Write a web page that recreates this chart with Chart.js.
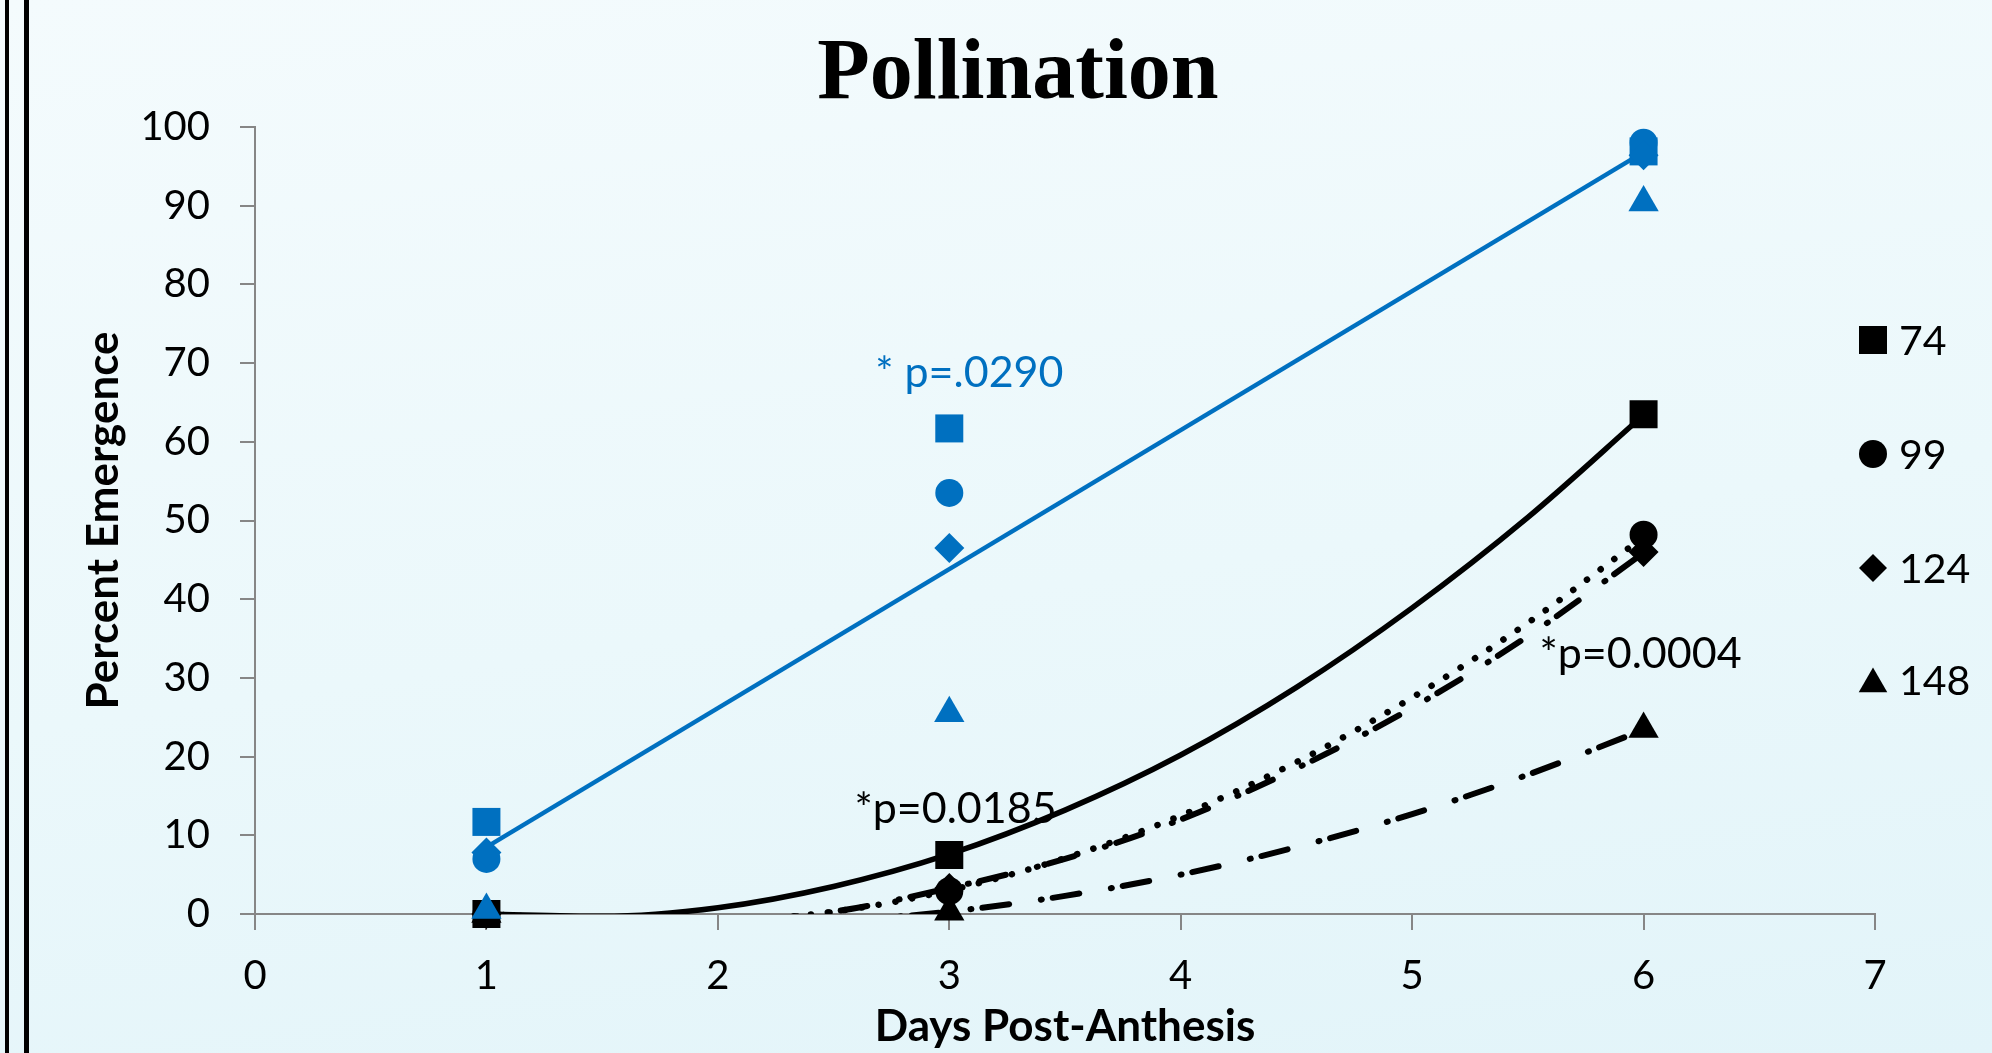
<!DOCTYPE html>
<html>
<head>
<meta charset="utf-8">
<script src="https://cdn.jsdelivr.net/npm/chart.js@4.4.1/dist/chart.umd.min.js"></script>
<style>
  html, body { margin: 0; padding: 0; }
  body {
    width: 1992px; height: 1053px; overflow: hidden; position: relative;
    background: linear-gradient(172deg, #f4fbfd 0%, #ebf8fb 55%, #e2f4f9 100%);
  }
  #wrap { position: absolute; left: 0; top: 0; width: 1992px; height: 1053px; }
  .rule { position: absolute; top: 0; height: 1053px; background: #000; }
</style>
</head>
<body>
<div class="rule" style="left:5px;width:4px"></div>
<div class="rule" style="left:24px;width:5px"></div>
<div id="wrap"><canvas id="myChart" width="1992" height="1053"></canvas></div>
<script>
// x values where the seeds were scored
const days = [1, 3, 6];
const seriesNames = ['74', '99', '124', '148'];

// black markers
const black74 = [0, 7.5, 63.5];
const black99 = [0, 2.9, 48.2];
const black124 = [0, 3.3, 46.0];
const black148 = [0, 0.3, 23.5];

// blue markers
const blue74 = [11.7, 61.7, 96.9];
const blue99 = [7.0, 53.5, 98.0];
const blue124 = [7.8, 46.5, 96.4];
const blue148 = [0.5, 25.5, 90.4];

// blue straight trend line (read at its two ends)
const blueTrendDays = [1, 6];
const blueTrend = [8.5, 96.8];

// black curved trend lines, every half day
const curveDays = [1, 1.5, 2, 2.5, 3, 3.5, 4, 4.5, 5, 5.5, 6];
const fit74 = [0, -0.3, 0.8, 3.5, 7.6, 13.2, 20.2, 28.8, 38.9, 50.4, 63.4];
const fit99 = [0, -0.8, -0.9, 0.3, 3.0, 7.1, 12.5, 19.3, 27.5, 37.0, 47.9];
const fit124 = [0, -0.8, -0.9, 0.3, 3.3, 7.0, 12.0, 18.5, 26.2, 35.3, 45.9];
const fit148 = [0, -1.1, -1.4, -0.9, 0.3, 2.3, 5.0, 8.5, 12.7, 17.7, 23.4];

const annotations = [
    { text: '* p=.0290', day: 2.68, value: 67.0, color: '#0070C0' },
    { text: '*p=0.0185', day: 2.59, value: 11.6, color: '#000000' },
    { text: '*p=0.0004', day: 5.55, value: 31.3, color: '#000000' }
];

const BLUE = '#0070C0';
const AXIS = '#868686';
const shapes = ['rect', 'circle', 'rectRot', 'triangle'];
const radii = [19.8, 14, 15, 17.5];

function pts(xs, ys) {
    return xs.map((d, i) => ({ x: d, y: ys[i] }));
}

function markerSet(label, values, idx, color, order) {
    return {
        label: label,
        data: pts(days, values),
        showLine: false,
        pointStyle: shapes[idx],
        pointRadius: radii[idx],
        pointHoverRadius: radii[idx],
        pointBackgroundColor: color,
        pointBorderColor: color,
        pointBorderWidth: 0,
        clip: false,
        order: order
    };
}

function curveSet(values, dash, width, order) {
    return {
        data: pts(curveDays, values),
        showLine: true,
        pointRadius: 0,
        borderColor: '#000',
        borderWidth: width,
        borderDash: dash,
        borderCapStyle: 'round',
        borderJoinStyle: 'round',
        cubicInterpolationMode: 'monotone',
        order: order
    };
}

const blackSets = [black74, black99, black124, black148];
const blueSets = [blue74, blue99, blue124, blue148];

const datasets = [];

// blue on top, later series over earlier ones
for (let i = 0; i !== 4; i++)
    datasets.push(markerSet(seriesNames[i], blueSets[i], i, BLUE, 3 - i));

datasets.push({
    data: pts(blueTrendDays, blueTrend),
    showLine: true,
    pointRadius: 0,
    borderColor: BLUE,
    borderWidth: 4.5,
    order: 4
});

for (let i = 0; i !== 4; i++)
    datasets.push(markerSet(seriesNames[i], blackSets[i], i, '#000', 8 - i));

datasets.push(curveSet(fit74, [], 5.5, 9));
datasets.push(curveSet(fit99, [0.1, 17], 6.5, 10));
datasets.push(curveSet(fit124, [27, 32, 1, 11], 6, 11));
datasets.push(curveSet(fit148, [27, 32, 1, 11], 6, 12));

// title, p-value notes and the marker legend on the right
const extras = {
    id: 'extras',
    afterDraw(chart) {
        const ctx = chart.ctx;
        const xs = chart.scales.x;
        const ys = chart.scales.y;
        ctx.save();

        ctx.fillStyle = '#000';
        ctx.font = 'bold 86px "Liberation Serif"';
        ctx.textAlign = 'center';
        ctx.textBaseline = 'alphabetic';
        ctx.fillText('Pollination', 1018, 98);

        ctx.textAlign = 'left';
        ctx.font = '43px Lato';
        for (const a of annotations) {
            ctx.fillStyle = a.color;
            ctx.fillText(a.text, xs.getPixelForValue(a.day), ys.getPixelForValue(a.value));
        }

        const legendY = [340, 454, 568, 680];
        ctx.textBaseline = 'middle';
        ctx.font = '41px Lato';
        for (let i = 0; i !== 4; i++) {
            ctx.fillStyle = '#000';
            Chart.helpers.drawPoint(ctx, {
                pointStyle: shapes[i],
                radius: i === 0 ? 19.8 : (i === 3 ? 16.5 : 14),
                rotation: 0,
                borderWidth: 0
            }, 1873, legendY[i] + (i === 3 ? 4 : 0));
            ctx.fillText(seriesNames[i], 1899, legendY[i] + 2);
        }
        ctx.restore();
    }
};

const tickFont = { family: 'Lato', size: 40 };

new Chart(document.getElementById('myChart'), {
    type: 'scatter',
    data: { datasets: datasets },
    options: {
        responsive: false,
        animation: false,
        events: [],
        devicePixelRatio: 1,
        layout: { padding: { left: 0, top: 127, right: 117, bottom: 0 } },
        plugins: {
            legend: { display: false },
            title: { display: false },
            tooltip: { enabled: false }
        },
        scales: {
            x: {
                type: 'linear',
                min: 0,
                max: 7,
                afterFit: s => { s.height = 139; },
                ticks: { stepSize: 1, font: tickFont, color: '#000', padding: 22 },
                grid: { drawOnChartArea: false, drawTicks: true, tickLength: 16, color: AXIS, lineWidth: 2 },
                border: { color: AXIS, width: 2 },
                title: {
                    display: true,
                    text: 'Days Post-Anthesis',
                    color: '#000',
                    font: { family: 'Lato', size: 44, weight: 'bold' },
                    padding: { top: 0, bottom: 0 }
                }
            },
            y: {
                type: 'linear',
                min: 0,
                max: 100,
                afterFit: s => { s.width = 255; },
                ticks: { stepSize: 10, font: tickFont, color: '#000', padding: 30 },
                grid: { drawOnChartArea: false, drawTicks: true, tickLength: 15, color: AXIS, lineWidth: 2 },
                border: { color: AXIS, width: 2 },
                title: {
                    display: true,
                    text: 'Percent Emergence',
                    color: '#000',
                    font: { family: 'Lato', size: 44, weight: 'bold' },
                    padding: { top: 77, bottom: 0 }
                }
            }
        }
    },
    plugins: [extras]
});
</script>
</body>
</html>
